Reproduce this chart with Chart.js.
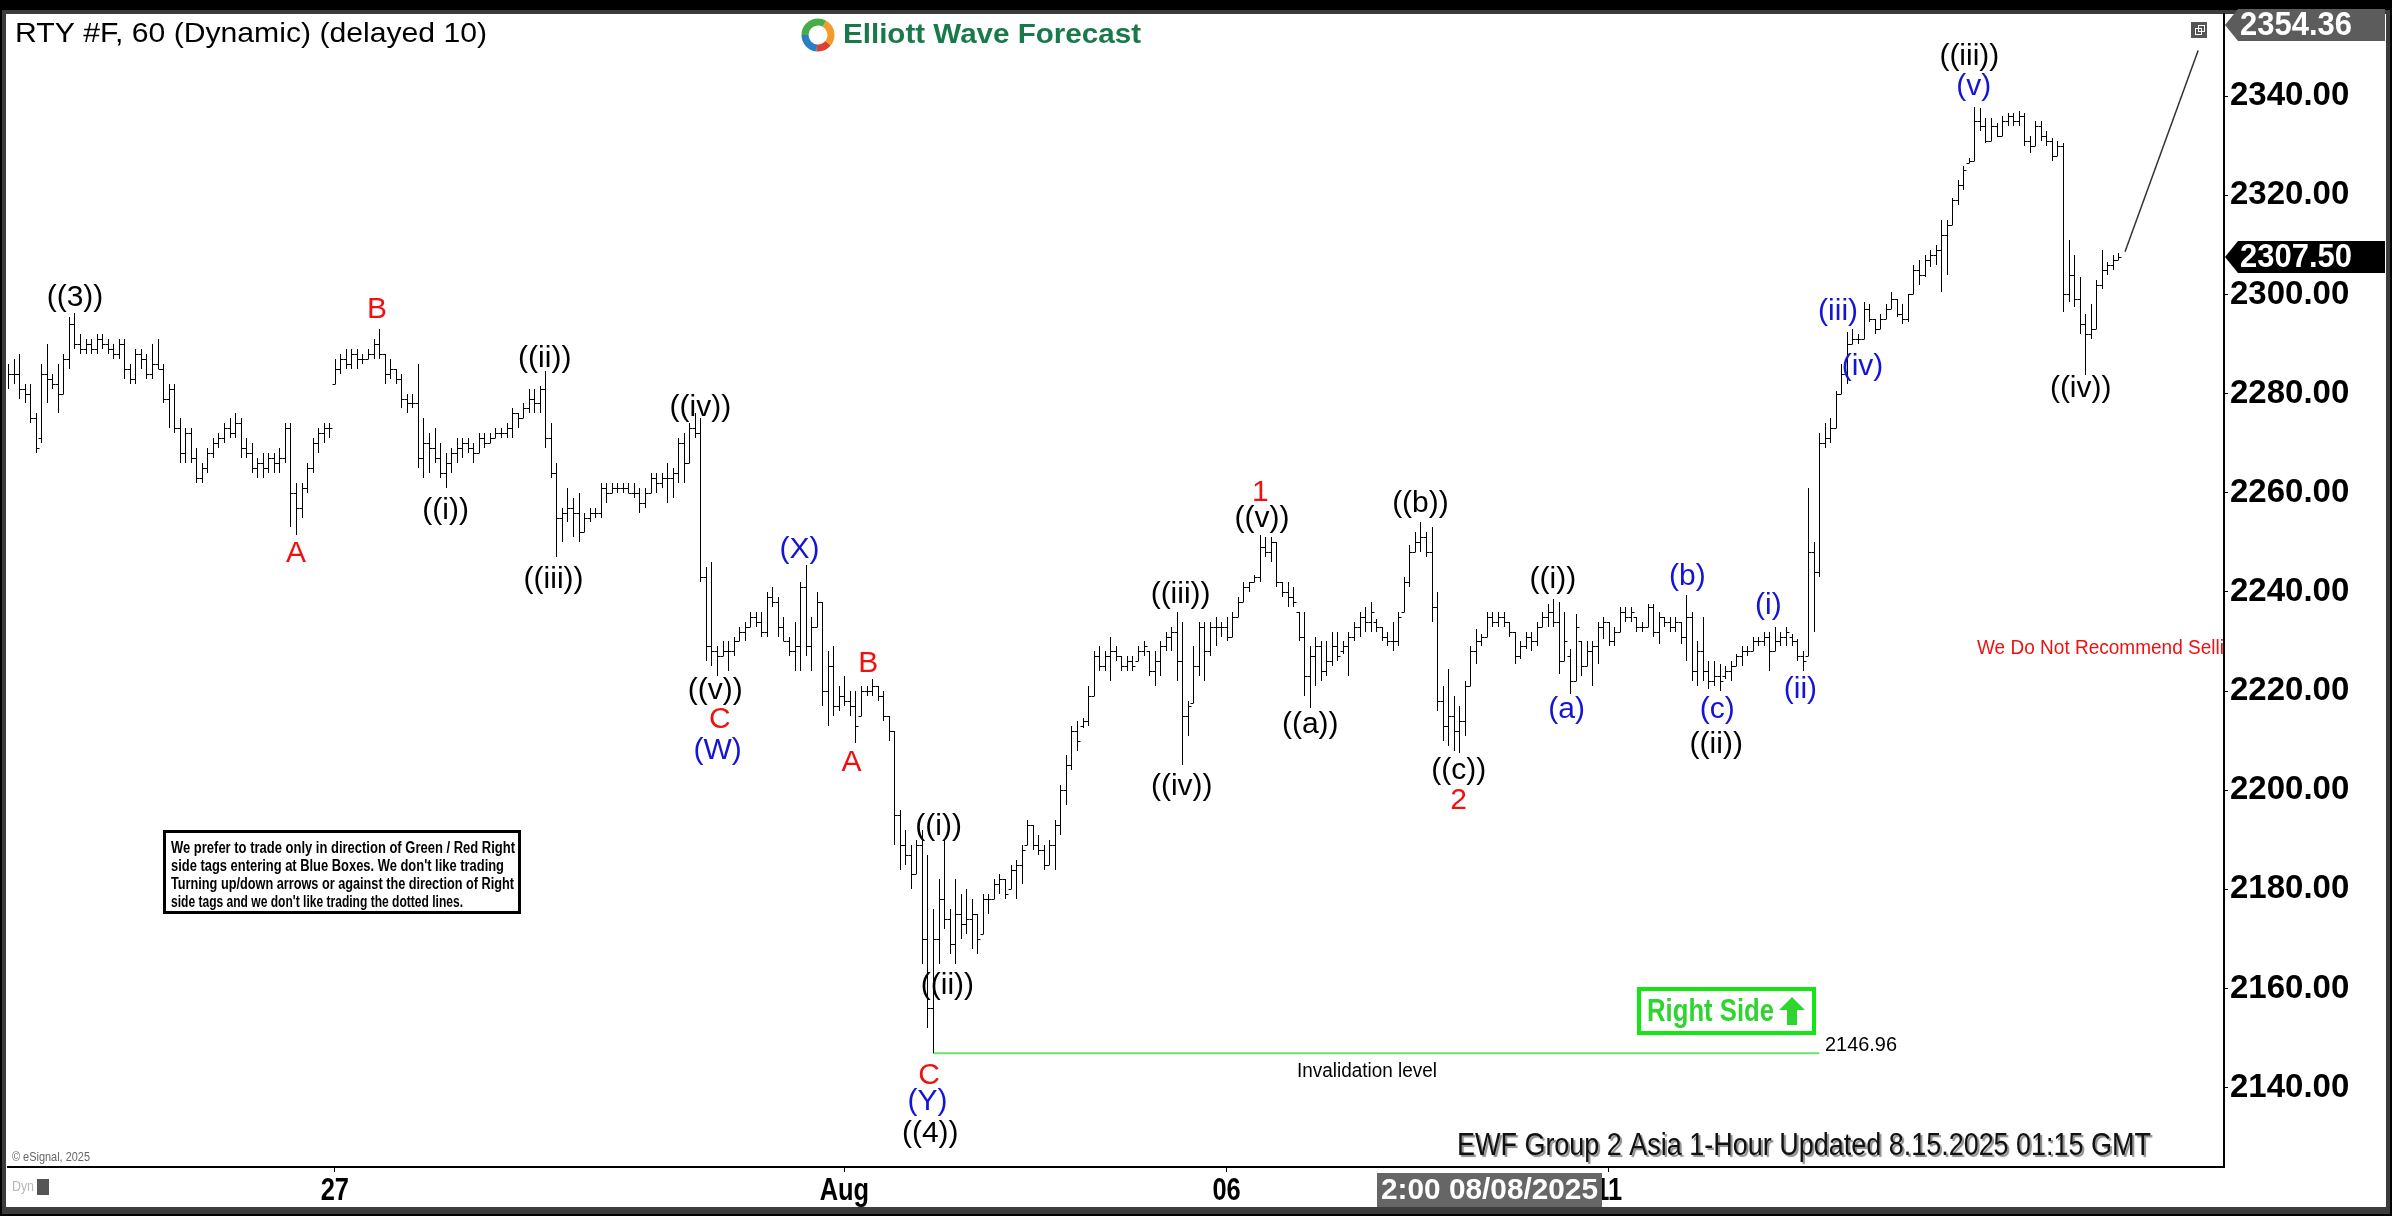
<!DOCTYPE html>
<html>
<head>
<meta charset="utf-8">
<title>RTY #F 60</title>
<script src="https://cdn.jsdelivr.net/npm/chart.js@4.4.1/dist/chart.umd.min.js"></script>
<style>
  html, body { margin: 0; padding: 0; background: #000; }
  #chart_rty { display: block; }
</style>
</head>
<body>
<canvas id="chart_rty" width="2392" height="1216"></canvas>
<script>
/* RTY #F hourly bars with the Elliott wave count (Jul 24 - Aug 15 2025) */

// x axis: bar index of each date label
const xTickIdx = [59, 151, 220, 289];
const xTickLabels = ['27', 'Aug', '06', '11'];
const yTickVals = [2140, 2160, 2180, 2200, 2220, 2240, 2260, 2280, 2300, 2320, 2340];

// hourly bars, [open, high, low, close], one array per leg
const legWave3 = [
  [2283,2286,2281,2284],[2284,2287,2282,2284],[2284,2288,2279,2281],[2281,2282,2278,2280],[2280,2282,2274,2275],
  [2275,2276,2268,2269],[2271,2286,2270,2284],[2284,2290,2278,2283],[2283,2284,2281,2282],[2282,2286,2276,2280],
  [2280,2288,2280,2287],[2287,2295.5,2285,2294],[2294,2296.3,2289,2290]
];
const legToA = [
  [2290,2292,2288,2289],[2289,2291,2288,2290],[2290,2291,2288,2289],[2289,2292,2288,2291],[2291,2292,2289,2290],
  [2290,2291,2288,2289],[2289,2290,2287,2288],[2288,2291,2287,2290],
  [2290,2291,2283,2285],[2285,2286,2282,2283],[2283,2289,2282,2288],[2288,2289,2285,2287],[2287,2288,2283,2284],
  [2284,2290,2283,2286],[2286,2291,2285,2285],[2285,2286,2278,2279],[2279,2282,2273,2281],[2281,2282,2272,2273],
  [2273,2275,2266,2268],[2268,2273,2266,2272],[2272,2273,2266,2267],[2267,2269,2262,2263],[2263,2266,2262,2265],
  [2265,2269,2264,2268],[2268,2271,2267,2270],[2270,2272,2269,2271],[2271,2274,2270,2273],[2273,2275,2271,2272],
  [2272,2276,2271,2274],[2274,2275,2267,2269],[2269,2271,2267,2268],[2268,2270,2264,2265],[2265,2267,2263,2266],
  [2266,2268,2263,2265],[2265,2268,2264,2267],[2267,2268,2264,2266],[2266,2269,2264,2267],[2267,2274,2266,2273],
  [2273,2274,2253,2260],[2260,2262,2251.5,2257],[2257,2262,2255,2261],[2261,2266,2260,2265],[2265,2271,2264,2270],
  [2270,2273,2268,2272],[2272,2274,2270,2273],[2273,2274,2271,2273]
];
const legToW = [
  [2282,2287,2282,2285],[2285,2288,2284,2287],[2287,2289,2285,2286],[2286,2289,2285,2288],[2288,2289,2285,2287],
  [2287,2288,2286,2287],[2287,2289,2287,2288],[2288,2291,2287,2290],[2290,2293,2287,2288],[2288,2288,2282,2284],
  [2284,2287,2283,2285],[2285,2285,2282,2283],[2283,2284,2277,2279],[2279,2280,2276,2278],[2278,2280,2277,2278],
  [2278,2286,2265,2267],[2267,2275,2263,2270],[2270,2272,2264,2269],[2269,2273,2266,2267],[2267,2270,2263,2264],
  [2264,2268,2261,2266],[2266,2269,2264,2268],[2268,2271,2266,2269],[2269,2271,2267,2270],[2270,2271,2268,2269],
  [2269,2270,2266,2268],[2268,2272,2268,2271],[2271,2272,2269,2270],[2270,2272,2270,2271],[2271,2273,2271,2272],
  [2272,2273,2271,2272],[2272,2274,2271,2273],[2273,2277,2271,2276],[2276,2276,2273,2275],[2275,2278,2275,2277],
  [2277,2281,2276,2279],[2279,2281,2276,2278],[2278,2281.5,2276,2281],[2281,2284.5,2269,2271],[2271,2274,2263,2264],
  [2264,2266,2247,2255],[2255,2257,2250,2256],[2256,2261,2254,2257],[2257,2259,2251,2256],[2256,2260,2250,2252],
  [2252,2256,2252,2255],[2255,2257,2254,2256],[2256,2257,2255,2256],[2256,2262,2255,2261],[2261,2262,2258,2260],
  [2260,2262,2260,2261],[2261,2262,2260,2261],[2261,2262,2260,2261],[2261,2262,2260,2260],[2260,2262,2259,2260],
  [2260,2261,2256,2258],[2258,2261,2257,2260],[2260,2264,2260,2263],[2263,2264,2260,2262],[2262,2264,2261,2263],
  [2263,2266,2258,2263],[2263,2265,2259,2264],[2264,2271,2262,2270],[2270,2272,2262,2266],[2266,2274,2266,2273],
  [2273,2276,2271,2272],[2272,2275,2242,2243],[2243,2245,2226,2229],[2229,2246,2225,2228],[2228,2229,2223,2227]
];
const legToX = [
  [2227,2230,2227,2228],[2228,2230,2224,2228],[2228,2231,2227,2230],[2230,2233,2230,2232],[2232,2234,2230,2233],
  [2233,2236,2233,2235],[2235,2236,2233,2234],[2234,2236,2231,2232],[2232,2240,2231,2239],[2239,2241,2237,2238],
  [2238,2239,2231,2233],[2233,2235,2230,2230],[2230,2231,2227,2228],[2228,2234,2224,2229],[2229,2242,2224,2241],
  [2241,2245.5,2227,2229]
];
const legToY = [
  [2229,2235,2224,2233],[2233,2240,2233,2238],[2238,2238,2217,2220],[2220,2228,2213,2225],[2225,2229,2215,2217],
  [2217,2221,2216,2219],[2219,2223,2217,2218],[2218,2220,2215,2217],[2217,2220,2209.5,2213],[2215,2221,2215,2220],
  [2220,2221,2219,2220],[2220,2222.5,2219,2221],[2221,2221,2218,2219],[2219,2220,2214,2215],[2215,2215,2210,2212],
  [2212,2212,2189,2195],[2195,2196,2184,2189],[2189,2192,2185,2187],[2187,2189,2180,2183],[2183,2190,2183,2189],
  [2189,2192,2165,2170],[2170,2187,2152,2156],[2156,2176,2146.96,2170]
];
const legWave1 = [
  [2170,2182,2165,2178],[2178,2190,2172,2174],[2174,2176,2167,2169],[2169,2182,2165,2175],[2175,2179,2170,2173],
  [2173,2180,2171,2174],[2174,2178,2168,2175],[2175,2175,2167,2170],[2171,2179,2171,2178],[2178,2179,2175,2178],
  [2178,2182,2178,2181],[2181,2183,2179,2182],[2182,2182,2178,2179],[2180,2185,2180,2184],[2184,2186,2178,2185],
  [2185,2189,2181,2188],[2189,2194,2189,2193],[2193,2193,2188,2189],[2189,2191,2187,2188],[2188,2189,2184,2185],
  [2185,2190,2185,2189],[2189,2194,2184,2193],[2193,2201,2191,2200],[2200,2207,2197,2205],[2205,2213,2204,2212],
  [2212,2214,2208,2210],[2213,2214.5,2212.5,2214],[2214,2221,2213,2219],[2219,2228,2219,2227],[2227,2229,2224,2225],
  [2225,2228,2224,2227],[2227,2231,2222,2228],[2228,2229,2226,2227],[2227,2227,2224,2225],[2225,2227,2224,2226],
  [2226,2227,2224,2225],[2226,2229,2226,2228],[2228,2230,2227,2229],[2228,2228,2223,2224],[2224,2228,2221,2226],
  [2226,2230,2223,2229],[2229,2232,2228,2231],[2231,2233,2228,2232],[2232,2236,2222,2226],[2226,2234,2205,2215],
  [2215,2218,2211,2217],[2217.5,2229,2217.5,2225],[2225,2234,2223,2233],[2233,2234,2222,2228],[2228,2234,2227,2233],
  [2233,2235,2229,2233],[2233,2234,2231,2233],[2233,2235,2230,2231],[2231,2236,2231,2235],[2235,2239,2235,2238],
  [2238,2242,2238,2241],[2241,2242,2240,2242],[2242,2243.5,2242,2243],[2243,2251.5,2242,2249]
];
const legWave2 = [
  [2249,2251,2247,2248],[2248,2251,2246,2250],[2250,2250,2241,2242],[2242,2242,2239,2240],[2240,2242,2237,2239],
  [2239,2241,2237,2238],[2236,2236,2230,2231],[2231,2236,2219,2223],[2223,2229,2216.5,2227],[2227,2231,2221,2229],
  [2229,2230,2222,2224],[2224,2230,2223,2226],[2226,2232,2225,2229],[2229,2232,2226,2227],[2228,2230,2227.5,2229],
  [2229,2232,2223,2231],[2231,2234,2230,2233],[2233,2236,2231,2235],[2235,2237,2232,2234],[2234,2238,2232,2236],
  [2234,2234.5,2232,2233],[2233,2233,2230,2231],[2231,2232,2229,2230],[2230,2234,2228,2230],[2230,2236,2229,2235],
  [2236,2243,2236,2242],[2242,2249.5,2241,2248],[2248,2252,2248,2250],[2250,2254,2248,2251],[2251,2252,2247,2248],
  [2248,2253,2234,2237],[2237,2240,2216,2218],[2218,2221,2210,2213],[2213,2224.5,2209,2215],[2215,2219,2208,2212],
  [2212,2217,2207.5,2214]
];
const legWaveIii = [
  [2214,2222,2211,2221],[2221,2229,2221,2228],[2228,2232.5,2225.5,2230],[2230,2231.5,2229,2231],[2231,2236,2231,2235],
  [2235,2236,2233,2234],[2234,2236,2233,2235],[2235,2236,2233,2234],[2234,2234,2231,2232],[2232,2232,2225.5,2227],
  [2227,2230,2226.5,2229],[2229,2232,2228.5,2231],[2231,2232,2228,2230],[2230,2234,2229,2233],[2233,2236,2233,2235],
  [2235,2237.5,2233,2236],[2236,2238.5,2233,2234],[2234,2238,2223.5,2226],[2226,2236,2226,2230],[2227,2228.5,2219.5,2222],
  [2222,2235.5,2222,2233],[2230,2230,2223,2225],[2225,2230,2225,2228],[2228,2230,2221,2229],[2229,2234,2225.5,2233],
  [2233,2235,2230.5,2234],[2234,2234,2229,2230],[2230,2233,2229,2232],[2232,2237,2232,2236],[2236,2237,2234,2235],
  [2235,2237,2234,2236],[2235,2235,2232,2233],[2233,2234,2232,2233],[2233,2237.5,2233,2237],[2237,2237.5,2231,2232],
  [2232,2236,2229.5,2235],[2235,2235,2233,2234],[2234,2235,2232,2233],[2233,2235,2232,2234],[2234,2234,2229.5,2231],
  [2231,2239.4,2226,2235],[2235,2236,2222,2224],[2224,2230,2221,2228],[2228,2235,2222,2224],[2224,2226,2220.5,2222],
  [2222,2226,2221,2223],[2223,2225.5,2220,2222],[2223,2225,2222.5,2224],[2224,2226,2222,2225],[2225,2227.5,2225,2227],
  [2227,2229,2225,2228],[2228,2229,2227,2228],[2228,2231,2228,2230],[2230,2231,2229,2230],[2230,2232,2229,2231],
  [2231,2232,2224,2228],[2228,2233,2228,2230],[2230,2232,2229,2231],[2231,2233,2229,2232],[2231,2231.5,2229,2230],
  [2230,2230.5,2226,2227],[2227,2228,2224,2226],[2227,2261,2227,2248],[2248,2250,2232,2244],[2244,2272,2243,2270],
  [2270,2274,2269,2271],[2271,2275,2270,2273],[2273,2280.5,2273,2280],[2280,2286,2280,2284],[2284,2292.5,2282,2290],
  [2290,2293,2290,2291],[2291,2292,2290,2291],[2291,2298.5,2291,2297],[2297,2298,2294.5,2295],[2295,2295,2292,2293],
  [2293,2296,2293,2295],[2295,2298,2295,2297],[2297,2300.5,2297,2299],[2299,2299,2295.5,2296],[2296,2298,2294,2295],
  [2295,2300,2294.5,2300],[2300,2306,2300,2305],[2305,2307,2302,2304],[2304,2308,2303.5,2307],[2307,2309,2305.5,2308],
  [2308,2310,2306,2309],[2309,2315,2300.5,2312],[2312,2315,2304,2314],[2314,2319.5,2314,2319],[2319,2323,2318,2322],
  [2322,2326,2321,2325],[2326.5,2327.5,2326.5,2327],[2327,2337.8,2327,2335]
];
const legWaveIv = [
  [2335,2337.5,2333,2334],[2334,2335.5,2330.5,2331],[2331,2335.5,2331,2334],[2334,2334.5,2331.8,2332],[2332,2336,2332,2335],
  [2335,2336.5,2334,2336],[2336,2336.5,2334,2335],[2335,2337,2334,2336],[2336,2336.5,2330,2331],[2331,2332,2328.5,2330],
  [2330,2335,2330,2334],[2334,2335,2331,2332],[2332,2333,2330,2331],[2331,2331.5,2327,2328],[2328,2331,2328,2330],
  [2330,2330.5,2296.5,2300],[2300,2311,2298.5,2304],[2304,2308,2297.5,2299],[2299,2303.5,2292,2294],[2294,2296,2283.7,2292],
  [2292,2298,2291,2293],[2293,2303,2293,2302],[2302,2309,2301,2305],[2305,2306.5,2304,2306],[2306,2308,2305,2307],
  [2307,2308.3,2307,2307.5]
];

// wave labels: text, bar index, price, degree colour
const waveText = ['((3))','A','B','((i))','((ii))','((iii))','((iv))','((v))','C','(W)',
                  '(X)','A','B','((i))','((ii))','C','(Y)','((4))','((iii))','((iv))',
                  '1','((v))','((a))','((b))','((c))','2','((i))','(a)','(b)','(c)',
                  '((ii))','(i)','(ii)','(iii)','(iv)','((iii))','(v)','((iv))'];
const waveIdx = [12.1,52.0,66.6,79.0,96.9,98.5,125.0,127.7,128.5,128.1,
                 142.9,152.3,155.3,168.0,169.6,166.3,166.0,166.5,211.7,211.9,
                 226.1,226.4,235.1,255.0,261.9,261.9,278.9,281.4,303.2,308.6,
                 308.4,317.8,323.6,330.4,334.8,354.1,354.9,374.2];
const waveVal = [2299.4,2247.7,2296.9,2256.3,2287.1,2242.5,2277.2,2220.0,2214.2,2208.0,
                 2248.6,2205.5,2225.5,2192.6,2160.6,2142.5,2137.2,2130.8,2239.4,2200.6,
                 2260.0,2254.8,2213.2,2257.8,2204.0,2197.8,2242.5,2216.3,2243.1,2216.3,
                 2209.2,2237.2,2220.3,2296.6,2285.5,2348.0,2341.8,2280.9];
const waveTier = ['k','r','r','k','k','k','k','k','r','b',
                  'b','r','r','k','k','r','b','k','k','k',
                  'r','k','k','k','k','r','k','b','b','b',
                  'k','b','b','b','b','k','b','k'];

const lastPrice = 2307.50;
const topPrice = 2354.36;
const invalidation = 2146.96;
const invIdx = [167, 327];
const projIdx = [382.2, 395.4];
const projVal = [2308.6, 2349.2];

const bars = [].concat(legWave3, legToA, legToW, legToX, legToY, legWave1, legWave2, legWaveIii, legWaveIv);

const SANS = '"Liberation Sans", Arial, sans-serif';
const tierColor = { k: '#000000', r: '#f01010', b: '#1414d4' };

// draws text squeezed/stretched to an exact width
function fitText(ctx, s, x, y, w, font, color, align) {
  ctx.save();
  ctx.font = font;
  ctx.fillStyle = color;
  ctx.textBaseline = 'middle';
  ctx.textAlign = 'left';
  const k = w / ctx.measureText(s).width;
  ctx.translate(align === 'center' ? x - w / 2 : x, y);
  ctx.scale(k, 1);
  ctx.fillText(s, 0, 0);
  ctx.restore();
}
// narrow look: regular face squeezed to 82 %
function narrowText(ctx, s, x, y, font, color, align) {
  ctx.save();
  ctx.font = font;
  const w = ctx.measureText(s).width * 0.82;
  ctx.restore();
  fitText(ctx, s, x, y, w, font, color, align);
}
// keep the plot box exactly where the reference has it
function noPad(s) { s.paddingTop = 0; s.paddingBottom = 0; s.paddingLeft = 0; s.paddingRight = 0; }

const framePlugin = {
  id: 'frame',
  beforeDraw(chart) {
    const c = chart.ctx, W = chart.width, H = chart.height;
    c.save();
    c.fillStyle = '#000'; c.fillRect(0, 0, W, H);
    c.fillStyle = '#3c3c3c'; c.fillRect(2, 10, W - 4, H - 12);
    c.fillStyle = '#ffffff'; c.fillRect(6, 14, W - 12, 1193);
    c.restore();
  }
};

const ohlcPlugin = {
  id: 'ohlc',
  afterDatasetsDraw(chart) {
    const meta = chart.getDatasetMeta(0);
    const ys = chart.scales.y, a = chart.chartArea, c = chart.ctx;
    c.save();
    c.beginPath(); c.rect(a.left, a.top, a.right - a.left, a.bottom - a.top); c.clip();
    c.strokeStyle = '#000'; c.lineWidth = 1;
    c.beginPath();
    meta.data.forEach((el, k) => {
      const b = bars[k];
      if (!b) return;
      const x = Math.round(el.x) + 0.5;
      let yh = Math.round(ys.getPixelForValue(b[1]));
      let yl = Math.round(ys.getPixelForValue(b[2]));
      if (yl - yh < 1) yl = yh + 1;
      const yo = Math.round(ys.getPixelForValue(b[0])) + 0.5;
      const yc = Math.round(ys.getPixelForValue(b[3])) + 0.5;
      c.moveTo(x, yh); c.lineTo(x, yl);
      c.moveTo(x - 3, yo); c.lineTo(x, yo);
      c.moveTo(x, yc); c.lineTo(x + 3, yc);
    });
    c.stroke();
    c.restore();
  }
};

const notesPlugin = {
  id: 'notes',
  afterDraw(chart) {
    const c = chart.ctx, xs = chart.scales.x, ys = chart.scales.y, a = chart.chartArea;

    // title + logo
    fitText(c, 'RTY #F, 60 (Dynamic) (delayed 10)', 15, 34, 472, '28px ' + SANS, '#000');
    const lx = 818, ly = 35;
    c.save();
    c.lineWidth = 7; c.lineCap = 'butt';
    [['#47ad48', 180, 300], ['#2a7fc2', 95, 180], ['#f39a2b', -60, 40], ['#dd4030', 40, 95]].forEach(p => {
      c.strokeStyle = p[0];
      c.beginPath(); c.arc(lx, ly, 13, p[1] * Math.PI / 180, p[2] * Math.PI / 180); c.stroke();
    });
    c.restore();
    fitText(c, 'Elliott Wave Forecast', 843, 36, 298, 'bold 27px ' + SANS, '#187a4a');

    // small window icon top right
    c.save();
    c.fillStyle = '#555'; c.fillRect(2191, 22, 16, 16);
    c.strokeStyle = '#fff'; c.lineWidth = 1;
    c.strokeRect(2195.5, 28.5, 6, 6); c.strokeRect(2198.5, 25.5, 6, 6);
    c.restore();

    // date labels under the axis
    xTickIdx.forEach((v, k) => {
      narrowText(c, xTickLabels[k], xs.getPixelForValue(v), 1191, 'bold 31px ' + SANS, '#000', 'center');
    });

    // wave labels
    c.save();
    c.beginPath(); c.rect(a.left, a.top, a.right - a.left, a.bottom - a.top); c.clip();
    c.font = '30px ' + SANS;
    c.textAlign = 'center'; c.textBaseline = 'middle';
    waveText.forEach((t, k) => {
      c.fillStyle = tierColor[waveTier[k]];
      c.fillText(t, xs.getPixelForValue(waveIdx[k]), ys.getPixelForValue(waveVal[k]));
    });

    // red remark, cut by the price axis
    c.font = '21px ' + SANS;
    c.textAlign = 'left';
    const kk = 247 / c.measureText('We Do Not Recommend Selli').width;
    c.translate(1977, 648); c.scale(kk, 1);
    c.fillStyle = '#ee1111';
    c.fillText('We Do Not Recommend Selling', 0, 0);
    c.restore();

    // trading note box
    c.save();
    c.fillStyle = '#fff'; c.fillRect(164, 831, 355, 81);
    c.strokeStyle = '#000'; c.lineWidth = 3; c.strokeRect(164.5, 831.5, 355, 81);
    c.restore();
    const noteLines = [
      'We prefer to trade only in direction of Green / Red Right',
      "side tags entering at Blue Boxes. We don't like trading",
      'Turning up/down arrows or against the direction of Right',
      "side tags and we don't like trading the dotted lines."
    ];
    const noteW = [344, 333, 343, 292];
    noteLines.forEach((s, k) => fitText(c, s, 171, 849 + k * 18, noteW[k], 'bold 16px ' + SANS, '#000'));

    // Right Side tag
    c.save();
    c.strokeStyle = '#14e614'; c.lineWidth = 4;
    c.strokeRect(1639, 989, 175, 44);
    c.restore();
    fitText(c, 'Right Side', 1647, 1012, 127, 'bold 32px ' + SANS, '#2ed52e');
    c.save();
    c.fillStyle = '#2ed52e';
    c.beginPath();
    c.moveTo(1792, 997); c.lineTo(1805, 1010); c.lineTo(1797, 1010); c.lineTo(1797, 1025);
    c.lineTo(1787, 1025); c.lineTo(1787, 1010); c.lineTo(1779, 1010); c.closePath(); c.fill();
    c.restore();

    // invalidation texts
    fitText(c, invalidation.toFixed(2), 1825, 1045, 72, '20px ' + SANS, '#000');
    fitText(c, 'Invalidation level', 1367, 1071, 140, '20px ' + SANS, '#000', 'center');

    // footer
    c.save();
    c.shadowColor = 'rgba(0,0,0,0.45)'; c.shadowOffsetX = 2; c.shadowOffsetY = 2; c.shadowBlur = 1;
    fitText(c, 'EWF Group 2 Asia 1-Hour Updated 8.15.2025 01:15 GMT', 1457, 1146, 694, '31px ' + SANS, '#111');
    c.restore();
    fitText(c, '\u00a9 eSignal, 2025', 12, 1157, 78, '13px ' + SANS, '#666');

    // bottom-left Dyn mark
    fitText(c, 'Dyn', 12, 1187, 22, '15px ' + SANS, '#b8b8b8');
    c.save();
    c.fillStyle = '#555'; c.fillRect(37, 1179, 12, 16);
    c.restore();

    // crosshair date box
    c.save();
    c.fillStyle = '#666'; c.fillRect(1377, 1173, 225, 34);
    c.restore();
    fitText(c, '2:00 08/08/2025', 1381, 1191, 217, 'bold 30px ' + SANS, '#fff');

    // price flags on the axis
    const flag = (v, bg) => {
      const y = Math.round(ys.getPixelForValue(v));
      c.save();
      c.fillStyle = bg;
      c.beginPath();
      c.moveTo(2225, y); c.lineTo(2238, y - 16); c.lineTo(2385, y - 16);
      c.lineTo(2385, y + 16); c.lineTo(2238, y + 16); c.closePath(); c.fill();
      c.restore();
      fitText(c, v.toFixed(2), 2240, y + 1, 112, 'bold 33px ' + SANS, '#fff');
    };
    flag(topPrice, '#5c5c5c');
    flag(lastPrice, '#000');
  }
};

var ctx_rty = document.getElementById('chart_rty');

const chart_rty = new Chart(ctx_rty, {
  type: 'bar',
  data: {
    datasets: [
      {
        label: 'RTY',
        data: bars.map((b, i) => ({ x: i, y: [b[2], b[1]] })),
        backgroundColor: 'rgba(0,0,0,0)',
        borderWidth: 0,
        barThickness: 1
      },
      {
        type: 'line',
        label: 'Invalidation',
        data: invIdx.map(i => ({ x: i, y: invalidation })),
        borderColor: '#6fe06f',
        borderWidth: 2,
        pointRadius: 0
      },
      {
        type: 'line',
        label: 'Path',
        data: projIdx.map((i, k) => ({ x: i, y: projVal[k] })),
        borderColor: '#333',
        borderWidth: 1.5,
        pointRadius: 0
      }
    ]
  },
  options: {
    responsive: false,
    animation: false,
    events: [],
    layout: { padding: { left: 8, top: 14, right: 0, bottom: 0 } },
    plugins: {
      legend: { display: false },
      tooltip: { enabled: false }
    },
    scales: {
      x: {
        type: 'linear',
        offset: false,
        min: 0,
        max: 400.07,
        afterBuildTicks: s => { s.ticks = xTickIdx.map(v => ({ value: v })); },
        afterFit: s => { s.height = 49; noPad(s); },
        grid: { drawOnChartArea: false, offset: false, tickLength: 5, color: '#000' },
        border: { display: true, color: '#000', width: 2 },
        ticks: { display: false }
      },
      y: {
        type: 'linear',
        position: 'right',
        min: 2124.0,
        max: 2356.56,
        afterBuildTicks: s => { s.ticks = yTickVals.map(v => ({ value: v })); },
        afterFit: s => { s.width = 168; noPad(s); },
        grid: { drawOnChartArea: false, tickLength: 4, color: '#000' },
        border: { display: true, color: '#000', width: 2 },
        ticks: {
          padding: 2, color: '#000',
          font: { family: SANS, size: 33, weight: 'bold' },
          callback: v => Number(v).toFixed(2)
        }
      }
    }
  },
  plugins: [framePlugin, ohlcPlugin, notesPlugin]
});
</script>
</body>
</html>
